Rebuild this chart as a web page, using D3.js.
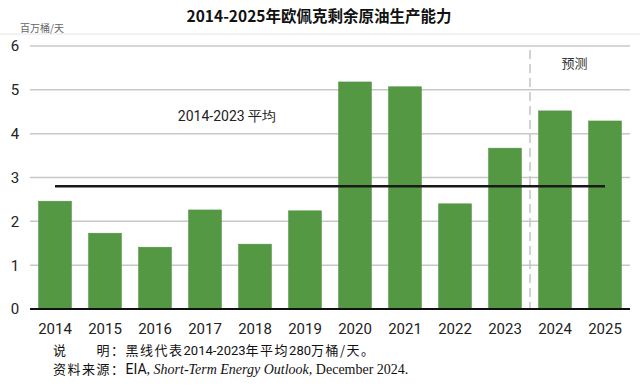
<!DOCTYPE html>
<html>
<head>
<meta charset="utf-8">
<script src="https://cdn.jsdelivr.net/npm/d3@7"></script>
<style>
  body { margin: 0; background: #fff; }
  svg { display: block; }
</style>
</head>
<body>
<svg id="chart" width="640" height="388"></svg>
<script>
const years = ["2014", "2015", "2016", "2017", "2018", "2019", "2020", "2021", "2022", "2023", "2024", "2025"];
const spare = [2.46, 1.73, 1.41, 2.26, 1.48, 2.24, 5.18, 5.07, 2.40, 3.67, 4.52, 4.29];
const avgValue = 2.8;
const yTicks = [0, 1, 2, 3, 4, 5, 6];

const svg = d3.select("#chart");
const margin = {top: 46, right: 10, bottom: 79, left: 30};
const width = 640 - margin.left - margin.right,
      height = 388 - margin.top - margin.bottom;

const font = "Roboto, 'Liberation Sans', sans-serif";
const cjk = "'Noto Sans CJK SC', sans-serif";

const x = d3.scaleBand().domain(years).range([0, width]).paddingInner(0.34).paddingOuter(0.17);
const y = d3.scaleLinear().domain([0, 6]).range([height, 0]);

// title
svg.append("text")
    .attr("x", 319).attr("y", 22)
    .attr("text-anchor", "middle")
    .style("font", `bold 15.5px ${cjk}`)
    .attr("fill", "#111")
    .text("2014-2025年欧佩克剩余原油生产能力");

svg.append("line")
    .attr("x1", 0).attr("x2", 640)
    .attr("y1", 34).attr("y2", 34)
    .attr("stroke", "#eeeeee").attr("stroke-width", 1.5);

svg.append("text")
    .attr("x", 20).attr("y", 32)
    .style("font", `10px ${cjk}`)
    .attr("fill", "#666")
    .text("百万桶/天");

const g = svg.append("g").attr("transform", `translate(${margin.left},${margin.top})`);

// gridlines
g.append("g")
    .selectAll("line")
    .data(yTicks.filter(d => d > 0))
    .join("line")
    .attr("x1", 0).attr("x2", width)
    .attr("y1", d => y(d)).attr("y2", d => y(d))
    .attr("stroke", "#c8c8c8").attr("stroke-width", 1.5);

// y axis labels
g.append("g")
    .selectAll("text")
    .data(yTicks)
    .join("text")
    .attr("x", -15).attr("y", d => y(d))
    .attr("dy", "0.36em")
    .attr("text-anchor", "middle")
    .style("font", `15px ${font}`)
    .attr("fill", "#222")
    .text(d => d);

// bars
g.append("g")
    .selectAll("rect")
    .data(years)
    .join("rect")
    .attr("x", d => x(d))
    .attr("width", x.bandwidth())
    .attr("y", (d, i) => y(spare[i]))
    .attr("height", (d, i) => y(0) - y(spare[i]))
    .attr("fill", "#559843")
    .attr("stroke", "#4f9140")
    .attr("stroke-width", 0.5);

// forecast divider
const divX = x("2024") - x.step() * x.paddingInner() / 2;
g.append("line")
    .attr("x1", divX).attr("x2", divX)
    .attr("y1", 4).attr("y2", height)
    .attr("stroke", "#c4c4c4").attr("stroke-width", 1.5)
    .attr("stroke-dasharray", "9,5");

g.append("text")
    .attr("x", x("2024") + x.bandwidth() + 3).attr("y", y(5.5))
    .attr("text-anchor", "middle")
    .style("font", `13px ${cjk}`)
    .attr("fill", "#333")
    .text("预测");

// average line
g.append("line")
    .attr("x1", x("2014") + x.bandwidth() / 2)
    .attr("x2", x("2025") + x.bandwidth() / 2)
    .attr("y1", y(avgValue)).attr("y2", y(avgValue))
    .attr("stroke", "#1a1a1a").attr("stroke-width", 2.5);

g.append("text")
    .attr("x", 197).attr("y", y(4.29))
    .attr("text-anchor", "middle")
    .attr("fill", "#222")
    .style("font", `14px ${font}`)
    .text("2014-2023 平均");

// baseline
g.append("line")
    .attr("x1", 0).attr("x2", width)
    .attr("y1", y(0)).attr("y2", y(0))
    .attr("stroke", "#111").attr("stroke-width", 2);

// x labels
g.append("g")
    .selectAll("text")
    .data(years)
    .join("text")
    .attr("x", d => x(d) + x.bandwidth() / 2)
    .attr("y", height + 25)
    .attr("text-anchor", "middle")
    .style("font", `15px ${font}`)
    .attr("fill", "#222")
    .text(d => d);

// notes
const note1 = svg.append("text")
    .attr("x", 53).attr("y", 355)
    .style("font", `13px ${cjk}`)
    .attr("fill", "#111");
note1.append("tspan").style("letter-spacing", "1.5px").text("说　　明：黑线代表");
note1.append("tspan").style("font-family", font).text("2014-2023");
note1.append("tspan").style("letter-spacing", "1.5px").text("年平均");
note1.append("tspan").style("font-family", font).text("280");
note1.append("tspan").style("letter-spacing", "1.5px").text("万桶/天。");

const note2 = svg.append("text")
    .attr("x", 53).attr("y", 374)
    .style("font", `14px 'Liberation Serif', serif`)
    .attr("fill", "#111");
note2.append("tspan").style("font", `13px ${cjk}`).style("letter-spacing", "1.5px").text("资料来源：");
note2.append("tspan").style("font-family", font).text("EIA");
note2.append("tspan").text(", ");
note2.append("tspan").style("font-style", "italic").text("Short-Term Energy Outlook,");
note2.append("tspan").text(" December 2024.");
</script>
</body>
</html>
